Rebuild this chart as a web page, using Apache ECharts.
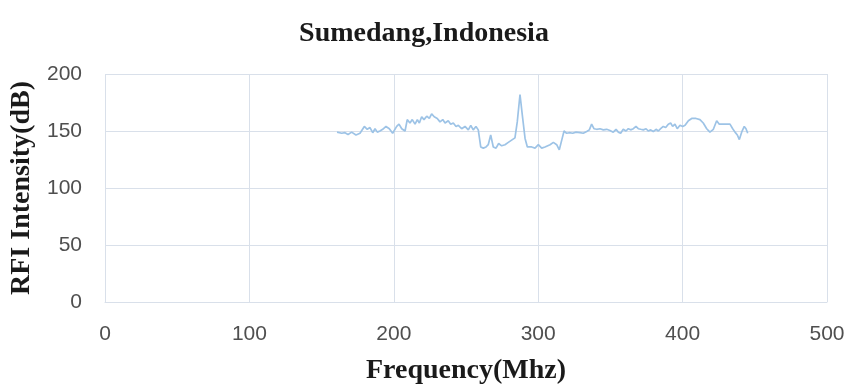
<!DOCTYPE html>
<html>
<head>
<meta charset="utf-8">
<script src="https://cdn.jsdelivr.net/npm/echarts@6/dist/echarts.min.js"></script>
<style>html,body{margin:0;padding:0;background:#fff}#c{width:848px;height:390px}</style>
</head>
<body>
<div id="c"></div>
<script>
const chartTitle = "Sumedang,Indonesia";
const xTitle = "Frequency(Mhz)";
const yTitle = "RFI Intensity(dB)";
const xTicks = [0, 100, 200, 300, 400, 500];
const yTicks = [0, 50, 100, 150, 200];

const freqs = [
  160.7,163.9,166.2,168.3,170.8,173.8,176.6,179.6,181.6,183.5,185.4,187.0,188.6,190.4,192.3,194.6,196.9,199.2,202.0,203.6,
  205.5,207.8,209.3,211.2,212.8,214.7,216.3,217.7,219.3,220.9,222.8,224.6,226.2,228.0,230.1,232.0,233.9,235.5,237.7,239.4,
  241.2,243.1,244.7,247.0,249.3,251.6,253.3,255.0,256.9,258.5,260.2,262.0,263.9,265.4,267.1,268.9,270.8,272.6,274.7,277.0,
  279.3,281.6,283.9,285.5,287.4,289.0,290.9,292.5,295.5,297.8,300.1,302.4,304.7,308.2,310.5,312.8,314.6,316.3,317.9,319.7,
  321.5,323.9,326.2,328.9,331.2,333.6,335.4,337.0,338.6,340.5,342.8,345.1,347.4,349.7,352.0,353.9,355.5,357.1,358.9,360.8,
  362.4,364.0,365.9,367.7,369.3,371.0,372.8,374.7,376.2,377.9,379.7,381.6,383.2,384.8,386.6,388.3,390.1,391.7,393.1,394.7,
  396.3,398.2,400.1,401.7,404.0,406.3,409.3,412.0,414.3,416.7,418.9,421.3,423.6,425.4,427.8,430.5,432.8,434.7,436.3,437.9,
  439.3,440.9,442.7,443.9,445.1
];
const intensity = [
  149,148,148.5,147,149,146.5,148,154,151.5,153,148.5,152,149,150,151.5,154,152,148,154,156,
  152,150,160,157,160,156,160,157,162.5,160,163,161,165,162.5,161,158,160,157,159,156,
  157,154,155,152,154,151,155,151,154,151,136,135,136,138,146.5,136,135,139,137,138,
  140,142,144,158,182,164,143.5,136,136,135,138,135,136,138,140,138,133.5,142,150,148,
  148.5,148,149,148.5,148,149.5,151,156,152,151.5,152,151,151.5,150.5,149,151.5,149,148,151.5,150,
  152,151,152,154,152,151.5,151,152,150,151,149.5,151.5,150,152,154,153,156,157,154,156,
  152,155,154,155,159,161,161,160,157,152,149,151.5,159,156,156,156,156,152,149,146.5,
  142.5,149,154,152,148
];

const seriesData = freqs.map((f, i) => [f, intensity[i]]);

const chart = echarts.init(document.getElementById('c'), null, {renderer: 'canvas'});
const gridColor = '#d9e0ea';
const serif = '"Liberation Serif", "Times New Roman", serif';
const sans = '"Liberation Sans", Arial, sans-serif';
chart.setOption({
  backgroundColor: '#ffffff',
  animation: false,
  title: {
    text: chartTitle,
    left: 'center',
    top: 15,
    textStyle: {fontFamily: serif, fontWeight: 'bold', fontSize: 28, color: '#1a1a1a'}
  },
  grid: {left: 105, right: 21, top: 74, bottom: 88, containLabel: false},
  xAxis: {
    type: 'value',
    min: xTicks[0], max: xTicks[xTicks.length - 1], interval: 100,
    name: xTitle, nameLocation: 'middle', nameGap: 55,
    nameTextStyle: {fontFamily: serif, fontWeight: 'bold', fontSize: 28, color: '#1a1a1a'},
    axisLine: {show: true, lineStyle: {color: gridColor, width: 1}},
    axisTick: {show: false},
    axisLabel: {margin: 22, fontFamily: sans, fontSize: 21, color: '#4f4f4f'},
    splitLine: {show: true, lineStyle: {color: gridColor, width: 1}}
  },
  yAxis: {
    type: 'value',
    min: yTicks[0], max: yTicks[yTicks.length - 1], interval: 50,
    name: yTitle, nameLocation: 'middle', nameGap: 57, nameRotate: 90,
    nameTextStyle: {fontFamily: serif, fontWeight: 'bold', fontSize: 28, color: '#1a1a1a'},
    axisLine: {show: false},
    axisTick: {show: false},
    axisLabel: {margin: 23, fontFamily: sans, fontSize: 21, color: '#4f4f4f'},
    splitLine: {show: true, lineStyle: {color: gridColor, width: 1}}
  },
  series: [{
    type: 'line',
    data: seriesData,
    showSymbol: false,
    symbol: 'none',
    lineStyle: {color: '#9dc3e6', width: 1.7},
    smooth: false
  }]
});
</script>
</body>
</html>
